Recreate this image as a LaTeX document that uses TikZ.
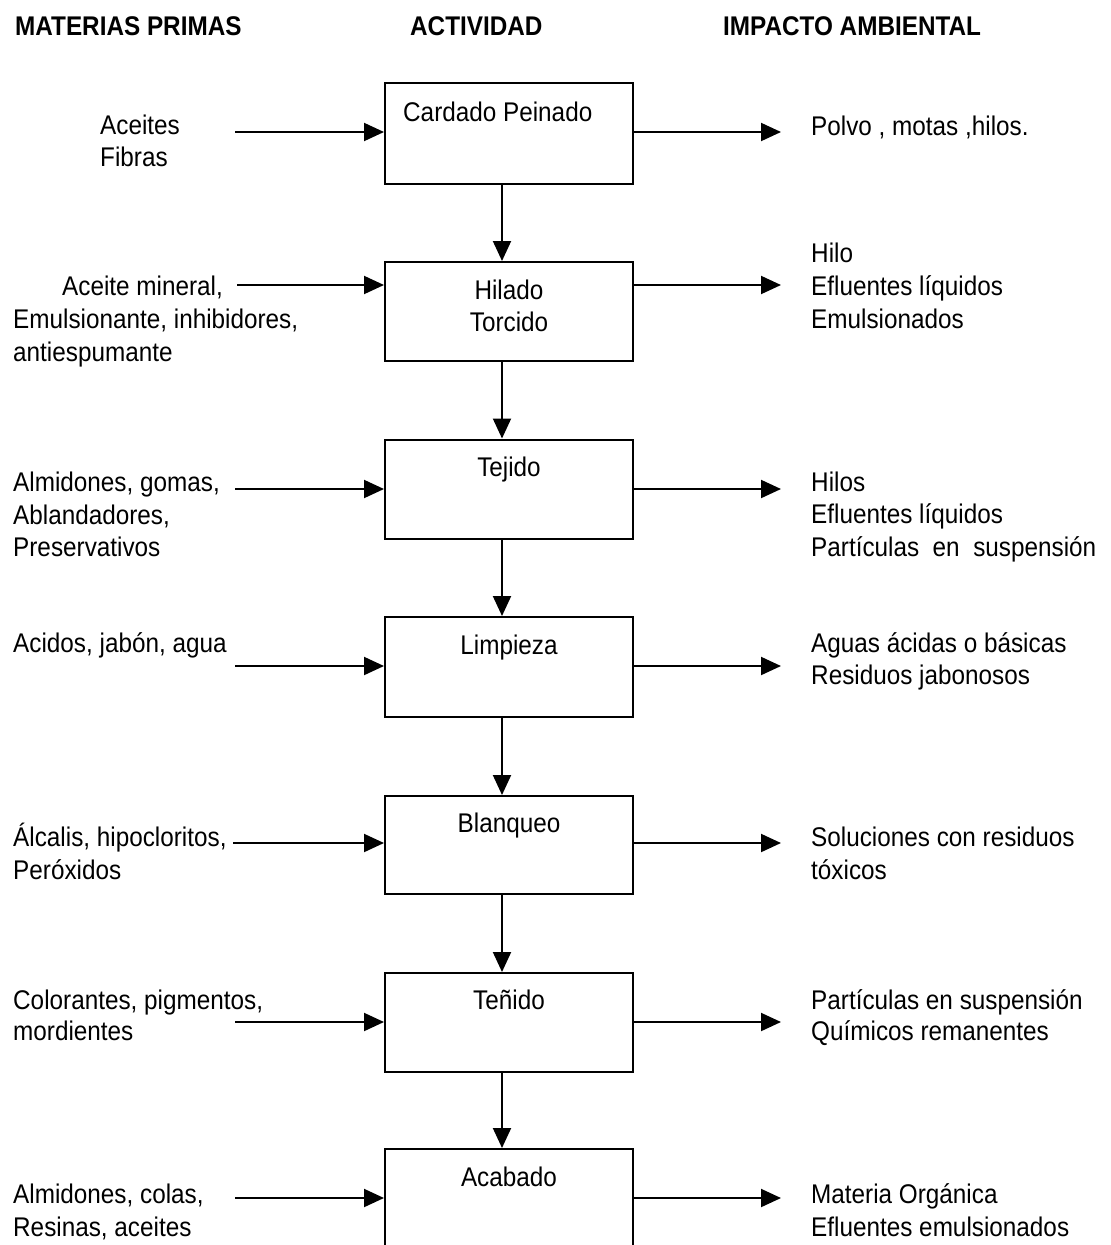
\documentclass[tikz,border=0pt]{standalone}
\usepackage{fontspec}
\setmainfont{Liberation Sans}[FakeStretch=0.9]
\usetikzlibrary{arrows.meta}
\begin{document}
\begin{tikzpicture}[x=1pt,y=-1pt,
  stagebox/.style={draw,line width=2pt,minimum width=248pt,minimum height=100pt,
    inner sep=0pt,anchor=north},
  txt/.style={inner sep=0pt,anchor=base west,font=\fontsize{27}{33}\selectfont},
  ctxt/.style={inner sep=0pt,anchor=base,font=\fontsize{27}{33}\selectfont},
  head/.style={inner sep=0pt,anchor=base west,font=\fontsize{27}{33}\selectfont\bfseries},
  flow/.style={line width=2pt,-{Triangle[length=20pt,width=18pt]}}]
\useasboundingbox (0,0) rectangle (1111,1245);
\clip (0,0) rectangle (1111,1245);

% column headings
\node[head] (h1) at (15,35) {MATERIAS PRIMAS};
\node[head] (h2) at (410,35) {ACTIVIDAD};
\node[head] (h3) at (723,35) {IMPACTO AMBIENTAL};

% process stages
\node[stagebox,minimum height=101pt] (b1) at (509,82) {};
\node[stagebox,minimum height=99pt]  (b2) at (509,261) {};
\node[stagebox,minimum height=99pt]  (b3) at (509,438.5) {};
\node[stagebox,minimum height=100pt] (b4) at (509,616) {};
\node[stagebox,minimum height=98pt]  (b5) at (509,795) {};
\node[stagebox,minimum height=99pt]  (b6) at (509,972) {};
\node[stagebox,minimum height=120pt] (b7) at (509,1148) {};

\node[txt]  (t1)  at (403,121) {Cardado Peinado};
\node[ctxt] (t2a) at (509,299) {Hilado};
\node[ctxt] (t2b) at (509,331) {Torcido};
\node[ctxt] (t3)  at (509,476) {Tejido};
\node[ctxt] (t4)  at (509,654) {Limpieza};
\node[ctxt] (t5)  at (509,832) {Blanqueo};
\node[ctxt] (t6)  at (509,1009) {Teñido};
\node[ctxt] (t7)  at (509,1186) {Acabado};

% flow between stages
\foreach \a/\b in {b1/b2,b2/b3,b3/b4,b4/b5,b5/b6,b6/b7}
  \draw[flow] ([xshift=-7pt]\a.south) -- ([xshift=-7pt]\b.north);

% raw materials (left column)
\node[txt] (m1a) at (100,134) {Aceites};
\node[txt] (m1b) at (100,166) {Fibras};
\node[txt] (m2a) at (62,295) {Aceite mineral,};
\node[txt] (m2b) at (13,328) {Emulsionante, inhibidores,};
\node[txt] (m2c) at (13,361) {antiespumante};
\node[txt] (m3a) at (13,491) {Almidones, gomas,};
\node[txt] (m3b) at (13,524) {Ablandadores,};
\node[txt] (m3c) at (13,556) {Preservativos};
\node[txt] (m4a) at (13,652) {Acidos, jabón, agua};
\node[txt] (m5a) at (13,846) {Álcalis, hipocloritos,};
\node[txt] (m5b) at (13,879) {Peróxidos};
\node[txt] (m6a) at (13,1009) {Colorantes, pigmentos,};
\node[txt] (m6b) at (13,1040) {mordientes};
\node[txt] (m7a) at (13,1203) {Almidones, colas,};
\node[txt] (m7b) at (13,1236) {Resinas, aceites};

% environmental impact (right column)
\node[txt] (e1a) at (811,135) {Polvo , motas ,hilos.};
\node[txt] (e2a) at (811,262) {Hilo};
\node[txt] (e2b) at (811,295) {Efluentes líquidos};
\node[txt] (e2c) at (811,328) {Emulsionados};
\node[txt] (e3a) at (811,491) {Hilos};
\node[txt] (e3b) at (811,523) {Efluentes líquidos};
\node[txt] (e3c) at (811,556) {Partículas~~en~~suspensión};
\node[txt] (e4a) at (811,652) {Aguas ácidas o básicas};
\node[txt] (e4b) at (811,684) {Residuos jabonosos};
\node[txt] (e5a) at (811,846) {Soluciones con residuos};
\node[txt] (e5b) at (811,879) {tóxicos};
\node[txt] (e6a) at (811,1009) {Partículas en suspensión};
\node[txt] (e6b) at (811,1040) {Químicos remanentes};
\node[txt] (e7a) at (811,1203) {Materia Orgánica};
\node[txt] (e7b) at (811,1236) {Efluentes emulsionados};

% inputs and outputs of each stage
\foreach \n/\yy/\xs in {1/132/235,2/285/237,3/489/235,4/666/235,5/843/233,6/1022/235,7/1198/235}{
  \coordinate (in\n) at (\xs,\yy);
  \coordinate (out\n) at (781,\yy);
  \draw[flow] (in\n) -- (b\n.west |- in\n);
  \draw[flow] (b\n.east |- out\n) -- (out\n);
}
\end{tikzpicture}
\end{document}
